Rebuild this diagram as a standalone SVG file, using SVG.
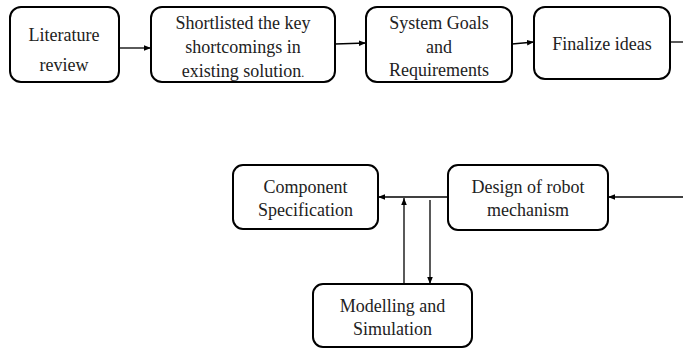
<svg xmlns="http://www.w3.org/2000/svg" width="683" height="350" viewBox="0 0 683 350">
<defs>
<marker id="ah" viewBox="0 0 10 10" refX="10" refY="5" markerWidth="7" markerHeight="7" orient="auto" markerUnits="userSpaceOnUse">
<path d="M0,1 L10,5 L0,9 z" fill="#000"/>
</marker>
<style>
.box{fill:#fff;stroke:#000;stroke-width:2}
.t{font-family:"Liberation Serif","Times New Roman",serif;font-size:18px;fill:#222;text-anchor:middle}
.c{stroke:#000;stroke-width:1.3;fill:none}
</style>
</defs>
<rect width="683" height="350" fill="#fff"/>
<g id="n1"><rect class="box" x="10" y="7" width="109" height="75" rx="11"/>
<text class="t" x="64" y="41">Literature</text><text class="t" x="64" y="71">review</text></g>
<g id="n2"><rect class="box" x="151" y="7" width="184" height="75" rx="11"/>
<text class="t" x="243" y="29">Shortlisted the key</text><text class="t" x="243" y="53">shortcomings in</text><text class="t" x="243" y="77">existing solution<tspan font-size="12">.</tspan></text></g>
<g id="n3"><rect class="box" x="366" y="7" width="146" height="75" rx="11"/>
<text class="t" x="439" y="29">System Goals</text><text class="t" x="439" y="53">and</text><text class="t" x="439" y="76">Requirements</text></g>
<g id="n4"><rect class="box" x="534" y="7" width="136" height="72" rx="11"/>
<text class="t" x="602" y="50">Finalize ideas</text></g>
<g id="n5"><rect class="box" x="233" y="165" width="145" height="64" rx="10"/>
<text class="t" x="305.5" y="193">Component</text><text class="t" x="305.5" y="216">Specification</text></g>
<g id="n6"><rect class="box" x="448" y="165" width="160" height="65" rx="10"/>
<text class="t" x="528" y="193">Design of robot</text><text class="t" x="528" y="216">mechanism</text></g>
<g id="n7"><rect class="box" x="313" y="284" width="159" height="63" rx="10"/>
<text class="t" x="392.5" y="312">Modelling and</text><text class="t" x="392.5" y="335">Simulation</text></g>
<g id="connectors">
<line class="c" x1="119" y1="48" x2="151" y2="48" marker-end="url(#ah)"/>
<line class="c" x1="335" y1="44" x2="366" y2="43" marker-end="url(#ah)"/>
<line class="c" x1="512" y1="44" x2="534" y2="42" marker-end="url(#ah)"/>
<line class="c" x1="670" y1="42" x2="683" y2="42"/>
<line class="c" x1="683" y1="197" x2="608" y2="197" marker-end="url(#ah)"/>
<line class="c" x1="448" y1="197" x2="378" y2="197" marker-end="url(#ah)"/>
<line class="c" x1="404" y1="284" x2="404" y2="198" marker-end="url(#ah)"/>
<line class="c" x1="430" y1="200" x2="430" y2="284" marker-end="url(#ah)"/>
</g>
</svg>
